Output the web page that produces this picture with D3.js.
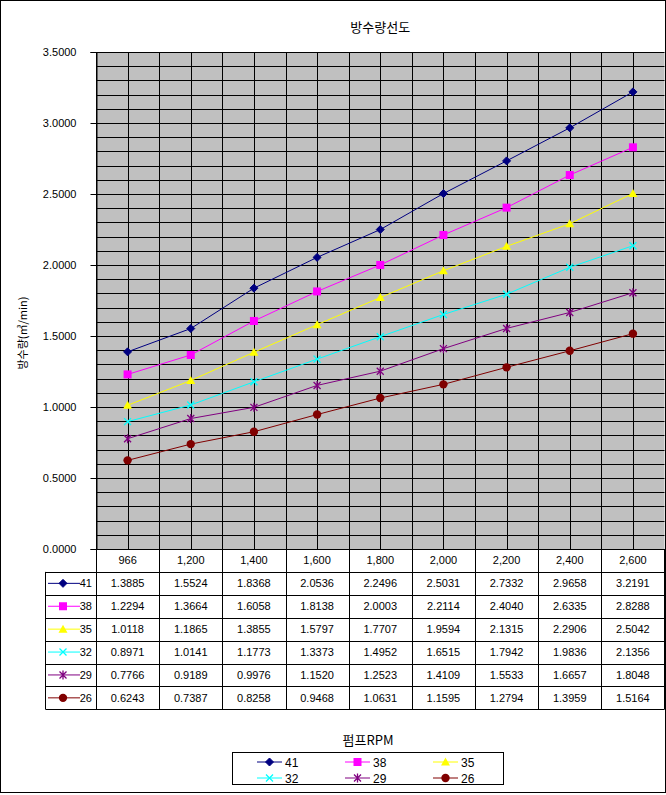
<!DOCTYPE html>
<html><head><meta charset="utf-8">
<script src="https://cdn.jsdelivr.net/npm/d3@7"></script>
<style>
html,body{margin:0;padding:0;background:#fff;}
svg text{font-family:"Liberation Sans","Noto Sans CJK KR",Arial,sans-serif;font-size:11px;fill:#000;}
.kr{font-family:"Noto Sans CJK KR","Liberation Sans",sans-serif;}
</style></head>
<body>
<svg id="c" width="666" height="795"></svg>
<script>
// ---- data ----
const categories = ["966","1,200","1,400","1,600","1,800","2,000","2,200","2,400","2,600"];
const seriesNames = ["41","38","35","32","29","26"];
const s41 = [1.3885,1.5524,1.8368,2.0536,2.2496,2.5031,2.7332,2.9658,3.2191];
const s38 = [1.2294,1.3664,1.6058,1.8138,2.0003,2.2114,2.4040,2.6335,2.8288];
const s35 = [1.0118,1.1865,1.3855,1.5797,1.7707,1.9594,2.1315,2.2906,2.5042];
const s32 = [0.8971,1.0141,1.1773,1.3373,1.4952,1.6515,1.7942,1.9836,2.1356];
const s29 = [0.7766,0.9189,0.9976,1.1520,1.2523,1.4109,1.5533,1.6657,1.8048];
const s26 = [0.6243,0.7387,0.8258,0.9468,1.0631,1.1595,1.2794,1.3959,1.5164];
const yTicks = [0,0.5,1.0,1.5,2.0,2.5,3.0,3.5];
const title = "방수량선도";
const yTitle = "방수량(㎥/min)";
const xTitle = "펌프RPM";

const seriesValues = [s41,s38,s35,s32,s29,s26];
const colors = ["#000080","#FF00FF","#FFFF00","#00FFFF","#800080","#800000"];
const markers = ["diamond","square","triangle","x","star","circle"];

// ---- layout ----
const L=96, R=664.5, T=52, B=549;
const rowH = 22.9;
const keyL = 45;

const svg = d3.select("#c");
// outer border
svg.append("rect").attr("x",0.5).attr("y",0.5).attr("width",665).attr("height",792).attr("fill","#fff").attr("stroke","#000");

const x = d3.scaleBand().domain(categories).range([L,R]).padding(0);
const y = d3.scaleLinear().domain([0,3.5]).range([B,T]);

// plot area
svg.append("rect").attr("x",L).attr("y",T).attr("width",R-L).attr("height",B-T).attr("fill","#C0C0C0");

const grid = svg.append("g").attr("stroke","#000").attr("stroke-width",1);
// horizontal gridlines every 0.1
d3.range(0,36).forEach(i=>{
  const yy = Math.round(y(i/10))+0.5;
  grid.append("line").attr("x1",L).attr("x2",R).attr("y1",yy).attr("y2",yy);
});
// vertical gridlines: category boundaries and centers
const vx = [];
categories.forEach(c=>{ vx.push(x(c)); vx.push(x(c)+x.bandwidth()/2); });
vx.push(R);
vx.forEach(v=>{
  const xx = Math.round(v)+0.5;
  grid.append("line").attr("x1",xx).attr("x2",xx).attr("y1",T).attr("y2",B);
});

// y axis
const yAxis = svg.append("g").attr("transform",`translate(${L+0.5},0)`)
  .call(d3.axisLeft(y).tickValues(yTicks).tickFormat(d3.format(".4f")).tickSize(6).tickPadding(14));
yAxis.select(".domain").attr("stroke","#000");
yAxis.selectAll("text").style("font-size","11px");

// title
svg.append("text").attr("class","kr").attr("x",(L+R)/2).attr("y",32).attr("text-anchor","middle").style("font-size","13px").text(title);
// y title
svg.append("text").attr("class","kr").attr("transform","translate(27,333) rotate(-90)").attr("text-anchor","middle").style("font-size","11px").text(yTitle);

// marker drawing
function drawMarker(g, type, cx, cy, color){
  const s = 4;
  if(type==="diamond"){
    g.append("path").attr("d",`M${cx},${cy-s}L${cx+s},${cy}L${cx},${cy+s}L${cx-s},${cy}Z`).attr("fill",color).attr("stroke",color);
  } else if(type==="square"){
    g.append("rect").attr("x",cx-4).attr("y",cy-4).attr("width",8).attr("height",8).attr("fill",color);
  } else if(type==="triangle"){
    g.append("path").attr("d",`M${cx},${cy-4.5}L${cx+4.5},${cy+3.5}L${cx-4.5},${cy+3.5}Z`).attr("fill",color);
  } else if(type==="x"){
    g.append("path").attr("d",`M${cx-3.5},${cy-3.5}L${cx+3.5},${cy+3.5}M${cx-3.5},${cy+3.5}L${cx+3.5},${cy-3.5}`).attr("stroke",color).attr("stroke-width",1.3);
  } else if(type==="star"){
    g.append("path").attr("d",`M${cx-3.5},${cy-3.5}L${cx+3.5},${cy+3.5}M${cx-3.5},${cy+3.5}L${cx+3.5},${cy-3.5}M${cx},${cy-4.5}L${cx},${cy+4.5}`).attr("stroke",color).attr("stroke-width",1.3);
  } else if(type==="circle"){
    g.append("circle").attr("cx",cx).attr("cy",cy).attr("r",4.2).attr("fill",color);
  }
}

// series
const line = d3.line().x((d,i)=>x(categories[i])+x.bandwidth()/2).y(d=>y(d));
seriesValues.forEach((vals,k)=>{
  const g = svg.append("g");
  g.append("path").attr("d",line(vals)).attr("fill","none").attr("stroke",colors[k]).attr("stroke-width",1);
  vals.forEach((v,i)=>drawMarker(g,markers[k],x(categories[i])+x.bandwidth()/2,y(v),colors[k]));
});

// data table
const tb = svg.append("g");
const tl = tb.append("g").attr("stroke","#000").attr("stroke-width",1).attr("fill","none");
const tableBottom = B + rowH*7;
// horizontal lines
for(let r=1;r<=7;r++){
  const yy = Math.round(B + rowH*r)+0.5;
  tl.append("line").attr("x1",keyL+0.5).attr("x2",R).attr("y1",yy).attr("y2",yy);
}
tl.append("line").attr("x1",L).attr("x2",R).attr("y1",B+0.5).attr("y2",B+0.5);
// vertical lines
categories.forEach(c=>{
  const xx = Math.round(x(c))+0.5;
  tl.append("line").attr("x1",xx).attr("x2",xx).attr("y1",B).attr("y2",tableBottom);
});
tl.append("line").attr("x1",Math.round(R)-0.5).attr("x2",Math.round(R)-0.5).attr("y1",B).attr("y2",tableBottom);
tl.append("line").attr("x1",keyL+0.5).attr("x2",keyL+0.5).attr("y1",B+rowH).attr("y2",tableBottom);

// header texts
categories.forEach(c=>{
  tb.append("text").attr("x",x(c)+x.bandwidth()/2).attr("y",B+rowH/2+4).attr("text-anchor","middle").text(c);
});
seriesValues.forEach((vals,k)=>{
  const cy = B + rowH*(k+1) + rowH/2;
  vals.forEach((v,i)=>{
    tb.append("text").attr("x",x(categories[i])+x.bandwidth()/2).attr("y",cy+4).attr("text-anchor","middle").text(d3.format(".4f")(v));
  });
  tb.append("line").attr("x1",48).attr("x2",80).attr("y1",cy).attr("y2",cy).attr("stroke",colors[k]).attr("stroke-width",1);
  drawMarker(tb,markers[k],63,cy,colors[k]);
  tb.append("text").attr("x",92).attr("y",cy+4).attr("text-anchor","end").text(seriesNames[k]);
});

// x title
svg.append("text").attr("class","kr").attr("x",368).attr("y",745).attr("text-anchor","middle").style("font-size","13px").text(xTitle);

// legend
const lg = svg.append("g");
lg.append("rect").attr("x",232.5).attr("y",752.5).attr("width",271).attr("height",32).attr("fill","#fff").attr("stroke","#000");
seriesNames.forEach((n,k)=>{
  const col = k%3, row = Math.floor(k/3);
  const lx = 257 + col*88, ly = 762 + row*16;
  lg.append("line").attr("x1",lx).attr("x2",lx+25).attr("y1",ly).attr("y2",ly).attr("stroke",colors[k]);
  drawMarker(lg,markers[k],lx+12.5,ly,colors[k]);
  lg.append("text").attr("x",lx+28).attr("y",ly+4.5).style("font-size","12px").text(n);
});
</script>
</body></html>
